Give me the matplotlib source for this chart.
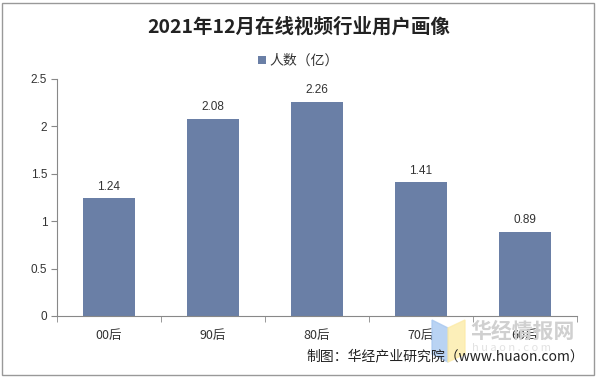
import matplotlib.pyplot as plt
from matplotlib.patches import Rectangle, Polygon

plt.rcParams['font.family'] = ['Noto Sans CJK SC', 'DejaVu Sans']

categories = ['00后', '90后', '80后', '70后', '60后']
values = [1.24, 2.08, 2.26, 1.41, 0.89]
yticks = [0, 0.5, 1, 1.5, 2, 2.5]
ytick_labels = ['0', '0.5', '1', '1.5', '2', '2.5']

bar_color = '#6A7FA6'
text_color = '#333333'
axis_color = '#888888'

fig = plt.figure(figsize=(5.97, 3.77), dpi=100)
ax = fig.add_axes([57 / 597, 1 - 316 / 377, 520 / 597, 237 / 377])

x = range(len(categories))
bars = ax.bar(x, values, width=0.5, color=bar_color, label='人数（亿）', zorder=2)
for xi, v in zip(x, values):
    ax.text(xi, v + 0.06, f'{v:.2f}', ha='center', va='bottom', fontsize=8.5,
            family=['Liberation Sans', 'DejaVu Sans'], color=text_color)

ax.set_xlim(-0.5, len(categories) - 0.5)
ax.set_ylim(0, 2.5)
ax.set_yticks(yticks)
ax.set_yticklabels(ytick_labels, family=['Liberation Sans', 'DejaVu Sans'], fontsize=8.5, color=text_color)
ax.set_xticks(list(x))
ax.set_xticklabels(categories, fontsize=9, color=text_color)
ax.set_xticks([i - 0.5 for i in range(len(categories) + 1)], minor=True)
ax.tick_params(axis='x', which='major', length=0, pad=9)
ax.tick_params(axis='x', which='minor', length=4, color=axis_color, direction='out')
ax.tick_params(axis='y', length=4, color=axis_color, direction='out', pad=3)

for s in ['top', 'right']:
    ax.spines[s].set_visible(False)
for s in ['left', 'bottom']:
    ax.spines[s].set_color(axis_color)
    ax.spines[s].set_linewidth(0.8)

fig.text(0.5, 1 - 27 / 377, '2021年12月在线视频行业用户画像', ha='center', va='center',
         fontsize=14, fontweight='bold', color='#222222')

leg = fig.legend(handles=[bars], loc='center', bbox_to_anchor=(0.5, 1 - 61 / 377),
                 frameon=False, fontsize=10, handlelength=0.55, handleheight=0.55,
                 handletextpad=0.3, borderpad=0)
for t in leg.get_texts():
    t.set_color(text_color)

# watermark
fig.patches.append(Polygon([[432 / 597, 1 - 320 / 377], [448 / 597, 1 - 328 / 377],
                            [448 / 597, 1 - 362 / 377], [432 / 597, 1 - 354 / 377]],
                           closed=True, transform=fig.transFigure, color='#A8C8F0', alpha=0.8))
fig.patches.append(Polygon([[448 / 597, 1 - 328 / 377], [465 / 597, 1 - 320 / 377],
                            [465 / 597, 1 - 354 / 377], [448 / 597, 1 - 362 / 377]],
                           closed=True, transform=fig.transFigure, color='#FCEBA8', alpha=0.8))
fig.text(470 / 597, 1 - 331 / 377, '华经情报网', ha='left', va='center', fontsize=15,
         fontweight='bold', color='#D0D0D0')
fig.text(472 / 597, 1 - 348 / 377, 'h u a o n . c o m', ha='left', va='center', fontsize=8,
         color='#E2E2E2')

fig.text(584 / 597, 1 - 356 / 377, '制图：华经产业研究院（www.huaon.com）', ha='right', va='center',
         fontsize=10, color='#222222')

fig.patches.append(Rectangle((2 / 597, 2 / 377), 592 / 597, 372 / 377, transform=fig.transFigure,
                             fill=False, edgecolor='#999999', linewidth=1))

fig.savefig('out.png', dpi=100)
